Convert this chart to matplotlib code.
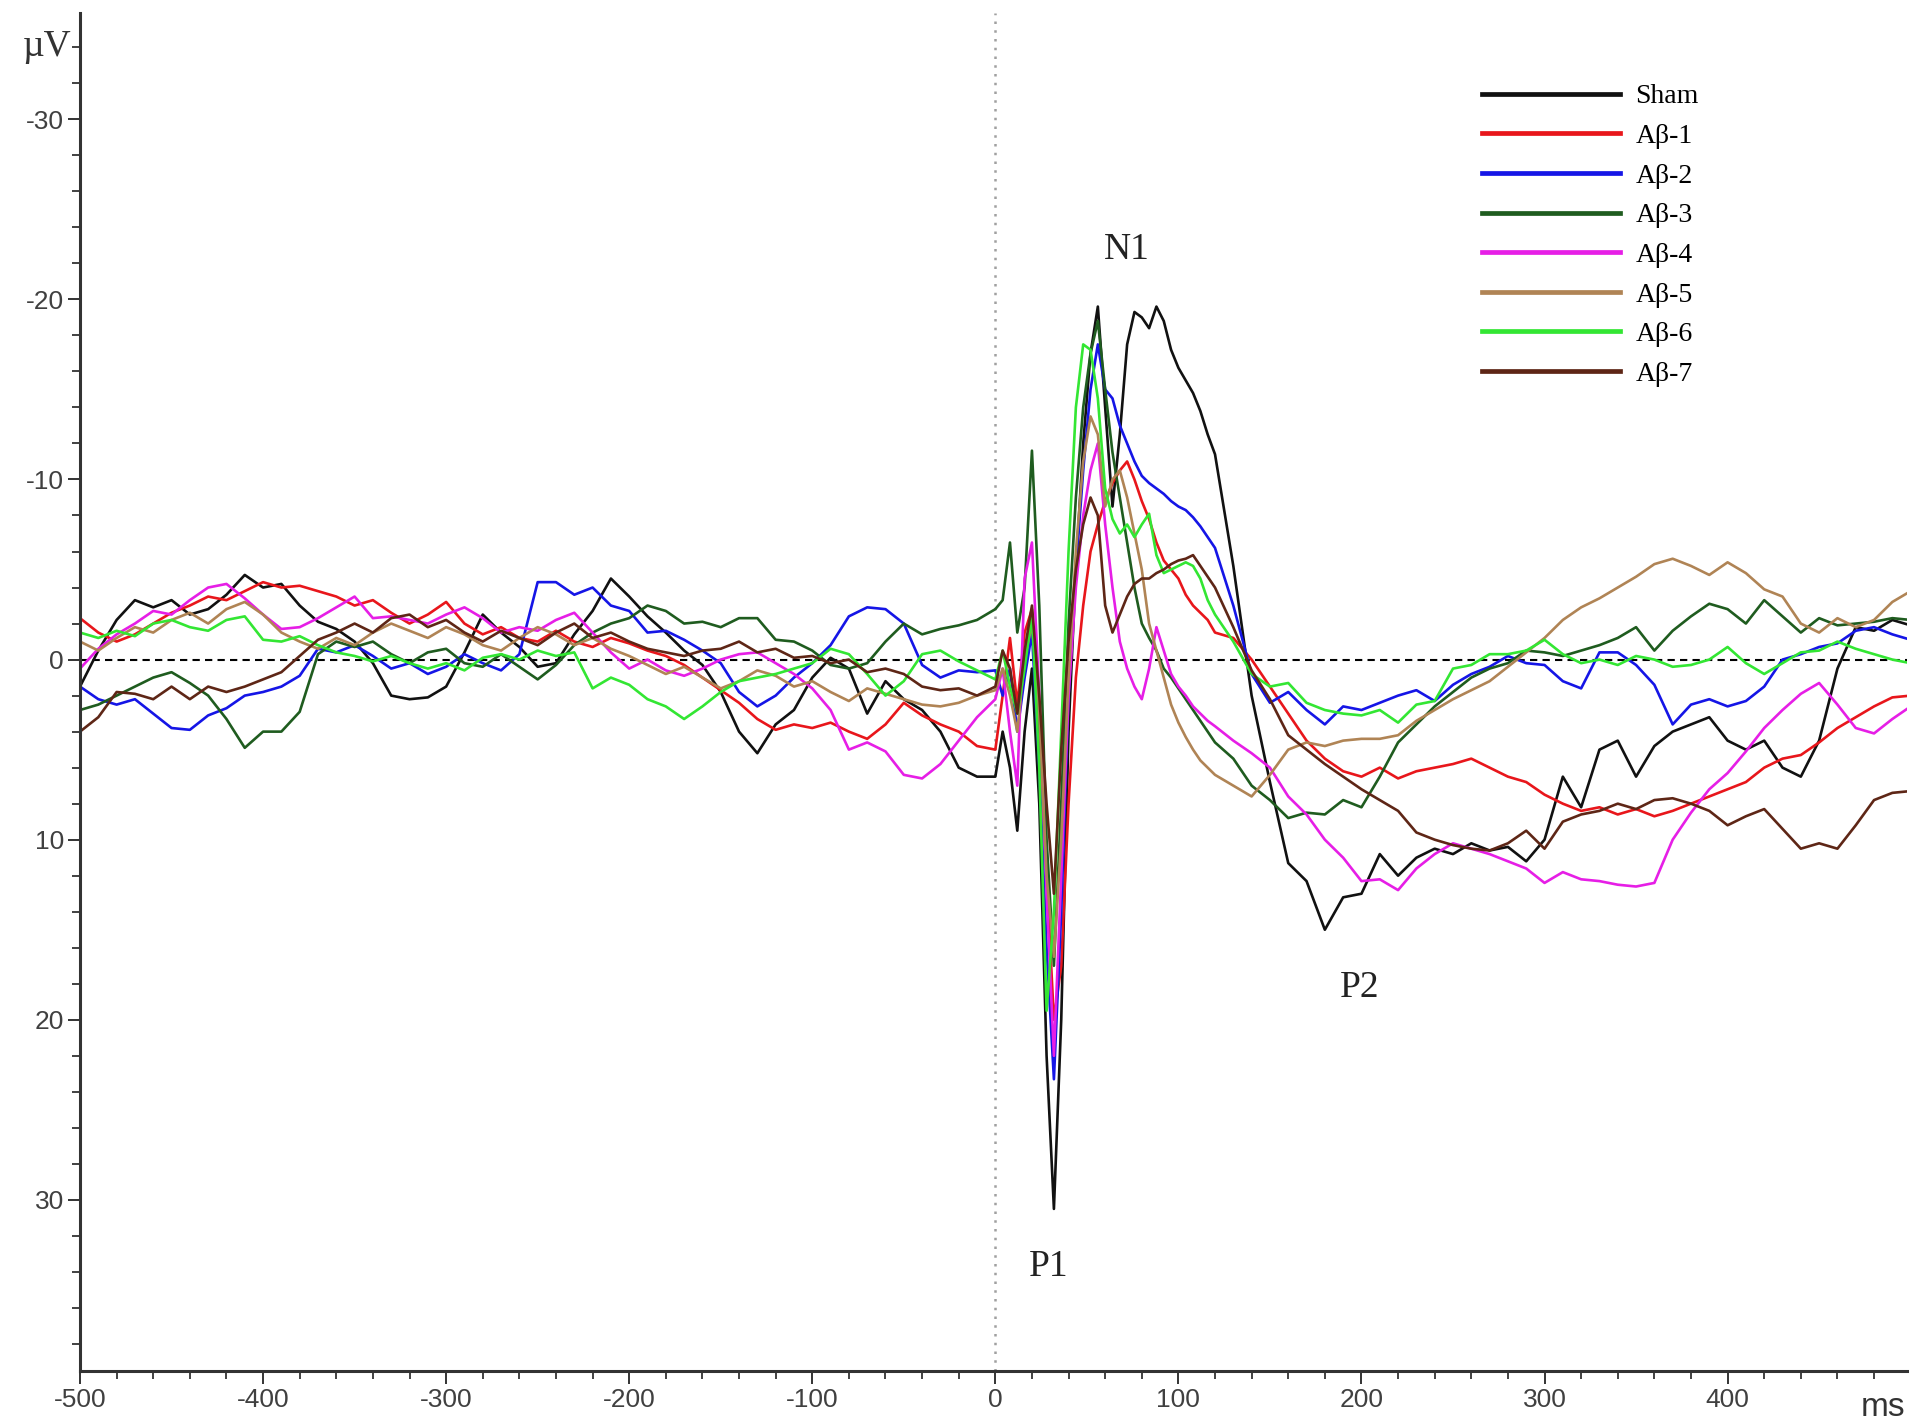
import matplotlib.pyplot as plt
import numpy as np
from matplotlib.ticker import MultipleLocator
from matplotlib.lines import Line2D

plt.rcParams['font.family'] = ['Liberation Sans', 'DejaVu Sans']

# sample times (ms): 10 ms before stimulus, 4 ms around P1/N1, 10 ms afterwards
t_pre = np.arange(-500, 0, 10)
t_peak = np.arange(0, 121, 4)
t_post = np.arange(130, 501, 10)
t = np.concatenate([t_pre, t_peak, t_post])

# amplitudes in uV (negative up)
sham_pre = [1.5, -0.5, -2.2, -3.3, -2.9, -3.3, -2.5, -2.8, -3.6, -4.7,
            -4.0, -4.2, -3.0, -2.1, -1.7, -1.0, 0.2, 2.0, 2.2, 2.1,
            1.5, -0.4, -2.5, -1.5, -0.7, 0.4, 0.2, -1.4, -2.7, -4.5,
            -3.5, -2.4, -1.5, -0.5, 0.3, 1.8, 4.0, 5.2, 3.6, 2.8,
            1.0, -0.1, 0.5, 3.0, 1.2, 2.2, 2.8, 4.0, 6.0, 6.5]
sham_peak = [6.5, 4.0, 6.0, 9.5, 4.0, 0.5, 8.0, 22.0, 30.5, 20.0,
             4.0, -5.0, -12.0, -17.0, -19.6, -14.0, -8.5, -12.5, -17.5, -19.3,
             -19.0, -18.4, -19.6, -18.8, -17.2, -16.2, -15.5, -14.8, -13.8, -12.5,
             -11.4]
sham_post = [-5.2, 2.0, 6.8, 11.3, 12.3, 15.0, 13.2, 13.0, 10.8, 12.0,
             11.0, 10.5, 10.8, 10.2, 10.6, 10.4, 11.2, 10.0, 6.5, 8.2,
             5.0, 4.5, 6.5, 4.8, 4.0, 3.6, 3.2, 4.5, 5.0, 4.5,
             6.0, 6.5, 4.5, 0.5, -1.8, -1.6, -2.2, -1.9]

ab1_pre = [-2.3, -1.5, -1.0, -1.4, -2.0, -2.6, -3.0, -3.5, -3.3, -3.8,
           -4.3, -4.0, -4.1, -3.8, -3.5, -3.0, -3.3, -2.6, -2.0, -2.5,
           -3.2, -2.0, -1.4, -1.8, -1.2, -1.0, -1.6, -1.0, -0.7, -1.2,
           -0.9, -0.5, -0.2, 0.3, 1.0, 1.7, 2.4, 3.3, 3.9, 3.6,
           3.8, 3.5, 4.0, 4.4, 3.6, 2.4, 3.1, 3.6, 4.0, 4.8]
ab1_peak = [5.0, 2.0, -1.2, 2.5, -1.5, -2.8, 4.0, 12.0, 20.0, 17.0,
            8.0, 1.0, -3.0, -6.0, -7.5, -8.8, -9.8, -10.5, -11.0, -10.0,
            -8.8, -7.8, -6.5, -5.5, -5.0, -4.5, -3.6, -3.0, -2.6, -2.2,
            -1.5]
ab1_post = [-1.2, 0.0, 1.5, 3.0, 4.5, 5.5, 6.2, 6.5, 6.0, 6.6,
            6.2, 6.0, 5.8, 5.5, 6.0, 6.5, 6.8, 7.5, 8.0, 8.4,
            8.2, 8.6, 8.3, 8.7, 8.4, 8.0, 7.6, 7.2, 6.8, 6.0,
            5.5, 5.3, 4.6, 3.8, 3.2, 2.6, 2.1, 2.0]

ab2_pre = [1.5, 2.2, 2.5, 2.2, 3.0, 3.8, 3.9, 3.1, 2.7, 2.0,
           1.8, 1.5, 0.9, -0.6, -0.4, -0.8, -0.2, 0.5, 0.2, 0.8,
           0.4, -0.3, 0.2, 0.6, -0.3, -4.3, -4.3, -3.6, -4.0, -3.0,
           -2.7, -1.5, -1.6, -1.1, -0.5, 0.2, 1.8, 2.6, 2.0, 1.0,
           0.2, -0.8, -2.4, -2.9, -2.8, -2.0, 0.3, 1.0, 0.6, 0.7]
ab2_peak = [0.6, 2.0, 0.5, 4.0, 1.0, -1.5, 6.0, 16.0, 23.3, 14.0,
            2.0, -5.0, -10.5, -15.0, -17.5, -15.0, -14.5, -13.0, -12.0, -11.0,
            -10.2, -9.8, -9.5, -9.2, -8.8, -8.5, -8.3, -7.9, -7.4, -6.8,
            -6.2]
ab2_post = [-3.0, 0.8, 2.4, 1.8, 2.8, 3.6, 2.6, 2.8, 2.4, 2.0,
            1.7, 2.3, 1.4, 0.8, 0.4, -0.2, 0.2, 0.3, 1.2, 1.6,
            -0.4, -0.4, 0.3, 1.4, 3.6, 2.5, 2.2, 2.6, 2.3, 1.5,
            0.0, -0.3, -0.7, -0.9, -1.6, -1.8, -1.4, -1.1]

ab3_pre = [2.8, 2.5, 2.0, 1.5, 1.0, 0.7, 1.3, 2.0, 3.3, 4.9,
           4.0, 4.0, 2.9, -0.3, -1.0, -0.7, -1.0, -0.3, 0.2, -0.4,
           -0.6, 0.2, 0.4, -0.3, 0.4, 1.1, 0.3, -0.8, -1.5, -2.0,
           -2.3, -3.0, -2.7, -2.0, -2.1, -1.8, -2.3, -2.3, -1.1, -1.0,
           -0.5, 0.3, 0.5, 0.2, -1.0, -2.0, -1.4, -1.7, -1.9, -2.2]
ab3_peak = [-2.8, -3.3, -6.5, -1.5, -4.0, -11.6, -3.0, 10.0, 17.0, 8.0,
            -2.0, -9.0, -14.0, -17.0, -18.8, -15.0, -11.5, -9.0, -6.5, -4.0,
            -2.0, -1.2, -0.5, 0.5, 1.0, 1.6, 2.2, 2.8, 3.4, 4.0,
            4.6]
ab3_post = [5.5, 7.0, 7.8, 8.8, 8.5, 8.6, 7.8, 8.2, 6.5, 4.6,
            3.6, 2.6, 1.8, 1.0, 0.5, 0.2, -0.5, -0.4, -0.2, -0.5,
            -0.8, -1.2, -1.8, -0.5, -1.6, -2.4, -3.1, -2.8, -2.0, -3.3,
            -2.4, -1.5, -2.3, -1.9, -2.0, -2.1, -2.3, -2.2]

ab4_pre = [0.5, -0.6, -1.4, -2.0, -2.7, -2.5, -3.3, -4.0, -4.2, -3.4,
           -2.5, -1.7, -1.8, -2.3, -2.9, -3.5, -2.3, -2.4, -2.2, -2.0,
           -2.5, -2.9, -2.3, -1.5, -1.8, -1.6, -2.2, -2.6, -1.5, -0.4,
           0.5, 0.0, 0.6, 0.9, 0.5, 0.0, -0.3, -0.4, 0.2, 0.8,
           1.6, 2.8, 5.0, 4.6, 5.1, 6.4, 6.6, 5.8, 4.5, 3.2]
ab4_peak = [2.2, 0.5, 4.0, 7.0, -4.5, -6.5, 2.0, 13.0, 22.0, 12.0,
            2.0, -4.0, -8.0, -10.5, -12.0, -7.5, -4.0, -1.0, 0.5, 1.5,
            2.2, 0.5, -1.8, -0.5, 0.8, 1.5, 2.0, 2.6, 3.0, 3.4,
            3.7]
ab4_post = [4.5, 5.2, 6.0, 7.6, 8.6, 10.0, 11.0, 12.3, 12.2, 12.8,
            11.6, 10.8, 10.2, 10.5, 10.8, 11.2, 11.6, 12.4, 11.8, 12.2,
            12.3, 12.5, 12.6, 12.4, 10.0, 8.5, 7.2, 6.3, 5.1, 3.8,
            2.8, 1.9, 1.3, 2.5, 3.8, 4.1, 3.3, 2.6]

ab5_pre = [-1.0, -0.5, -1.2, -1.8, -1.5, -2.2, -2.6, -2.0, -2.8, -3.2,
           -2.5, -1.5, -1.0, -0.6, -1.2, -0.8, -1.5, -2.0, -1.6, -1.2,
           -1.8, -1.4, -0.8, -0.5, -1.2, -1.8, -1.4, -0.8, -1.2, -0.6,
           -0.2, 0.3, 0.8, 0.4, 1.0, 1.6, 1.2, 0.6, 0.9, 1.5,
           1.2, 1.8, 2.3, 1.6, 1.9, 2.2, 2.5, 2.6, 2.4, 2.0]
ab5_peak = [1.7, 0.5, 2.0, 4.0, 0.0, -2.0, 3.0, 12.0, 16.5, 10.0,
            1.0, -6.0, -11.0, -13.5, -12.5, -8.5, -10.0, -10.5, -9.0, -7.0,
            -5.0, -2.0, -0.5, 1.0, 2.5, 3.5, 4.3, 5.0, 5.6, 6.0,
            6.4]
ab5_post = [7.0, 7.6, 6.4, 5.0, 4.6, 4.8, 4.5, 4.4, 4.4, 4.2,
            3.4, 2.8, 2.2, 1.7, 1.2, 0.4, -0.4, -1.2, -2.2, -2.9,
            -3.4, -4.0, -4.6, -5.3, -5.6, -5.2, -4.7, -5.4, -4.8, -3.9,
            -3.5, -2.0, -1.5, -2.3, -1.8, -2.2, -3.2, -3.8]

ab6_pre = [-1.5, -1.2, -1.6, -1.3, -2.0, -2.2, -1.8, -1.6, -2.2, -2.4,
           -1.1, -1.0, -1.3, -0.8, -0.4, -0.2, 0.1, -0.2, 0.2, 0.5,
           0.2, 0.6, -0.1, -0.3, 0.0, -0.5, -0.2, -0.4, 1.6, 1.0,
           1.4, 2.2, 2.6, 3.3, 2.6, 1.8, 1.2, 1.0, 0.8, 0.5,
           0.2, -0.6, -0.3, 0.8, 2.0, 1.2, -0.3, -0.5, 0.1, 0.6]
ab6_peak = [1.1, -0.5, 1.5, 3.0, 0.5, -2.5, 6.0, 19.5, 14.0, 4.0,
            -6.0, -14.0, -17.5, -17.2, -14.5, -9.5, -7.8, -7.0, -7.5, -6.8,
            -7.5, -8.1, -5.8, -4.8, -5.0, -5.2, -5.4, -5.2, -4.5, -3.3,
            -2.5]
ab6_post = [-1.0, 0.8, 1.5, 1.3, 2.4, 2.8, 3.0, 3.1, 2.8, 3.5,
            2.5, 2.3, 0.5, 0.3, -0.3, -0.3, -0.5, -1.1, -0.3, 0.2,
            0.0, 0.3, -0.2, 0.0, 0.4, 0.3, 0.0, -0.7, 0.2, 0.8,
            0.2, -0.4, -0.5, -1.0, -0.6, -0.3, 0.0, 0.2]

ab7_pre = [4.0, 3.2, 1.8, 1.9, 2.2, 1.5, 2.2, 1.5, 1.8, 1.5,
           1.1, 0.7, -0.2, -1.1, -1.5, -2.0, -1.5, -2.3, -2.5, -1.8,
           -2.2, -1.5, -1.0, -1.6, -1.2, -0.8, -1.5, -2.0, -1.2, -1.5,
           -1.0, -0.6, -0.4, -0.2, -0.5, -0.6, -1.0, -0.4, -0.6, -0.1,
           -0.2, 0.2, 0.0, 0.7, 0.5, 0.8, 1.5, 1.7, 1.6, 2.0]
ab7_peak = [1.5, -0.5, 0.5, 3.0, -0.5, -3.0, 2.0, 8.0, 13.0, 5.0,
            -1.0, -5.0, -7.5, -9.0, -8.0, -3.0, -1.5, -2.5, -3.5, -4.2,
            -4.5, -4.5, -4.8, -5.0, -5.3, -5.5, -5.6, -5.8, -5.2, -4.6,
            -4.0]
ab7_post = [-1.8, 0.6, 2.2, 4.2, 5.0, 5.8, 6.5, 7.2, 7.8, 8.4,
            9.6, 10.0, 10.3, 10.5, 10.6, 10.2, 9.5, 10.5, 9.0, 8.6,
            8.4, 8.0, 8.3, 7.8, 7.7, 8.0, 8.4, 9.2, 8.7, 8.3,
            9.4, 10.5, 10.2, 10.5, 9.2, 7.8, 7.4, 7.3]

names = ['Sham', 'Aβ-1', 'Aβ-2', 'Aβ-3', 'Aβ-4', 'Aβ-5', 'Aβ-6', 'Aβ-7']
colors = ['#111111', '#e8161b', '#1515e6', '#1f5c1f',
          '#e61ee6', '#b08455', '#33e633', '#5e2616']
series = [sham_pre + sham_peak + sham_post,
          ab1_pre + ab1_peak + ab1_post,
          ab2_pre + ab2_peak + ab2_post,
          ab3_pre + ab3_peak + ab3_post,
          ab4_pre + ab4_peak + ab4_post,
          ab5_pre + ab5_peak + ab5_post,
          ab6_pre + ab6_peak + ab6_post,
          ab7_pre + ab7_peak + ab7_post]

fig = plt.figure(figsize=(19.15, 14.22), dpi=100)
ax = fig.add_axes([80 / 1915, 1 - 1371 / 1422, 1827 / 1915, 1358 / 1422])

# reference lines: stimulus onset and baseline
ax.axvline(0, color='#a0a0a0', lw=1.8, ls=(0, (1, 2.5)), zorder=1)
ax.axhline(0, color='black', lw=1.5, ls=(0, (3.5, 2.5)), zorder=1)

for name, col, vals in zip(names, colors, series):
    ax.plot(t, vals, color=col, lw=1.9, label=name, zorder=2)

ax.set_xlim(-500, 498)
ax.set_ylim(39.5, -35.9)

# axes styling
for side in ['top', 'right']:
    ax.spines[side].set_visible(False)
for side in ['left', 'bottom']:
    ax.spines[side].set_linewidth(2.2)
    ax.spines[side].set_color('#333333')

xticks = list(range(-500, 401, 100))
yticks = list(range(-30, 31, 10))
ax.set_xticks(xticks)
ax.set_xticklabels([str(v) for v in xticks])
ax.set_yticks(yticks)
ax.set_yticklabels([str(v) for v in yticks])
ax.xaxis.set_minor_locator(MultipleLocator(20))
ax.yaxis.set_minor_locator(MultipleLocator(2))
ax.tick_params(which='major', direction='out', length=9, width=1.4,
               color='#333333', labelsize=19, labelcolor='#404040')
ax.tick_params(which='minor', direction='out', length=5.5, width=1.3,
               color='#333333')
ax.tick_params(axis='x', which='major', pad=3.5)
ax.tick_params(axis='y', which='major', pad=2.5)

# unit labels
ax.annotate('ms', xy=(485, 0), xycoords=('data', 'axes fraction'),
            xytext=(0, -26.5), textcoords='offset points',
            ha='center', va='center', fontsize=24, color='#333333')
ax.annotate('µV', xy=(0, -34), xycoords=('axes fraction', 'data'),
            xytext=(-6, 0), textcoords='offset points',
            ha='right', va='center', fontsize=27, color='#333333',
            family='Liberation Serif')

# component labels
serif = dict(family='Liberation Serif', fontsize=27, color='#222222',
             ha='center', va='center')
ax.text(72, -22.75, 'N1', **serif)
ax.text(29, 33.7, 'P1', **serif)
ax.text(199, 18.2, 'P2', **serif)

handles = [Line2D([], [], color=c, lw=3.4) for c in colors]
ax.legend(handles, names, loc='upper left',
          bbox_to_anchor=(1482 / 1915, 1 - 84 / 1422),
          bbox_transform=fig.transFigure, frameon=False, borderpad=0,
          borderaxespad=0, handlelength=4.96, handletextpad=0.56,
          labelspacing=0.51, prop={'family': 'Liberation Serif', 'size': 20})

fig.savefig('out.png', dpi=100)
